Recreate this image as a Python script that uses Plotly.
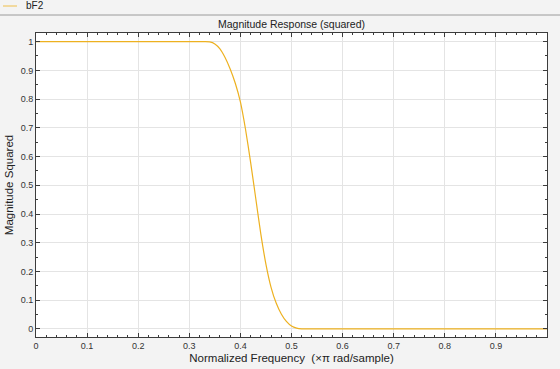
import plotly.graph_objects as go

# Normalized frequency (x pi rad/sample) and squared magnitude
freq = [0.0, 0.10, 0.20, 0.30, 0.33, 0.34, 0.35, 0.36, 0.37, 0.38, 0.39, 0.40,
        0.41, 0.42, 0.43, 0.44, 0.45, 0.46, 0.47, 0.48, 0.49, 0.50, 0.51, 0.52,
        0.55, 0.60, 0.70, 0.80, 0.90, 1.00]
mag_sq = [1.0, 1.0, 1.0, 1.0, 1.0, 0.999, 0.992, 0.975, 0.945, 0.905, 0.855, 0.79,
          0.695, 0.58, 0.455, 0.33, 0.225, 0.145, 0.09, 0.052, 0.026, 0.010, 0.003, 0.0005,
          0.0, 0.0, 0.0, 0.0, 0.0, 0.0]

x_ticks = [0, 0.1, 0.2, 0.3, 0.4, 0.5, 0.6, 0.7, 0.8, 0.9]
x_tick_labels = ["0", "0.1", "0.2", "0.3", "0.4", "0.5", "0.6", "0.7", "0.8", "0.9"]
y_ticks = [0, 0.1, 0.2, 0.3, 0.4, 0.5, 0.6, 0.7, 0.8, 0.9, 1]
y_tick_labels = ["0", "0.1", "0.2", "0.3", "0.4", "0.5", "0.6", "0.7", "0.8", "0.9", "1"]

series_name = "bF2"
line_color = "#EDB120"
font_family = "Liberation Sans, Arial, Helvetica, sans-serif"

fig = go.Figure()
fig.add_trace(go.Scatter(
    x=freq, y=mag_sq, mode="lines", name=series_name,
    line=dict(color=line_color, width=1.2, shape="spline", smoothing=0.6),
    showlegend=False, hoverinfo="x+y",
))

axis_common = dict(
    showline=True, linecolor="#3c3c3c", linewidth=1, mirror="ticks",
    ticks="inside", ticklen=4, tickwidth=1, tickcolor="#3c3c3c",
    showgrid=True, gridcolor="#e4e4e4", gridwidth=1, zeroline=False,
    automargin=False,
    tickfont=dict(size=9, color="#333333", family=font_family),
)

fig.update_xaxes(
    range=[0, 1.0], tickmode="array", tickvals=x_ticks, ticktext=x_tick_labels,
    minor=dict(dtick=0.02, ticks="inside", ticklen=2, tickcolor="#3c3c3c", showgrid=False),
    title=dict(text="Normalized Frequency  (×π rad/sample)", standoff=4,
               font=dict(size=11.5, color="#222222", family=font_family)),
    **axis_common,
)
fig.update_yaxes(
    range=[-0.028, 1.03], tickmode="array", tickvals=y_ticks, ticktext=y_tick_labels,
    minor=dict(dtick=0.05, tick0=0, ticks="inside", ticklen=2, tickcolor="#3c3c3c", showgrid=False),
    title=dict(text="Magnitude Squared", standoff=4,
               font=dict(size=11.5, color="#222222", family=font_family)),
    **axis_common,
)

# header strip separator and legend-like label
plot_top, plot_h, plot_w = 33, 304, 511
sep_y = 1 + (plot_top - 15) / plot_h
leg_y = 1 + (plot_top - 6) / plot_h

fig.add_shape(type="line", xref="paper", yref="paper", x0=-36 / plot_w, x1=1 + 13 / plot_w,
              y0=sep_y, y1=sep_y, line=dict(color="#9a9a9a", width=1))
fig.add_shape(type="line", xref="paper", yref="paper", x0=-33 / plot_w, x1=-19 / plot_w,
              y0=leg_y, y1=leg_y, line=dict(color=line_color, width=0.8))
fig.add_annotation(text=series_name, xref="paper", yref="paper", x=-12 / plot_w, y=leg_y,
                   xanchor="left", yanchor="middle", showarrow=False,
                   font=dict(size=10, color="#222222", family=font_family))

fig.update_layout(
    width=560, height=369,
    margin=dict(l=36, r=13, t=33, b=32, autoexpand=False),
    paper_bgcolor="#f3f3f3", plot_bgcolor="#ffffff",
    title=dict(text="Magnitude Response (squared)", x=0.5, xref="paper",
               y=1 - 24 / 369, yanchor="middle", automargin=False,
               font=dict(size=10.5, color="#222222", family=font_family)),
    font=dict(family=font_family),
)

fig.write_html(
    "out.html",
    config={"displayModeBar": False},
    post_script="document.body.style.margin='0';document.body.style.overflow='hidden';",
)
